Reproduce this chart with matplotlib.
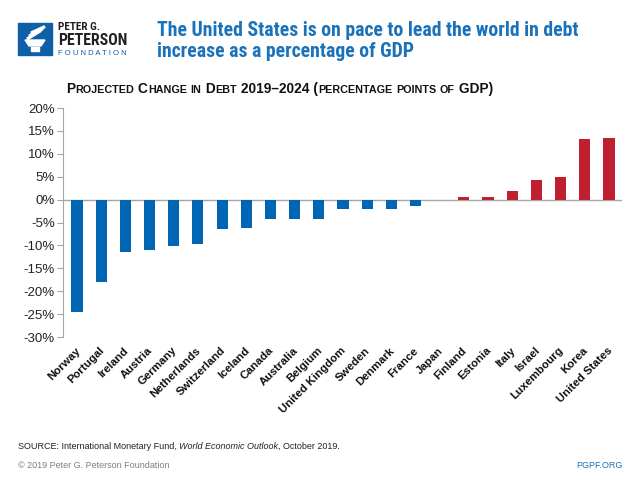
import matplotlib
matplotlib.use("Agg")
import matplotlib.pyplot as plt
from matplotlib import font_manager as fm
from matplotlib.patches import Rectangle, Polygon
from matplotlib.ticker import FuncFormatter

countries = ["Norway", "Portugal", "Ireland", "Austria", "Germany", "Netherlands",
             "Switzerland", "Iceland", "Canada", "Australia", "Belgium",
             "United Kingdom", "Sweden", "Denmark", "France", "Japan", "Finland",
             "Estonia", "Italy", "Israel", "Luxembourg", "Korea", "United States"]
changes = [-24.6, -18.1, -11.5, -10.9, -10.2, -9.8, -6.5, -6.2, -4.3, -4.3, -4.2,
           -2.1, -2.0, -2.0, -1.5, -0.1, 0.6, 0.6, 1.9, 4.2, 4.9, 13.2, 13.5]
y_ticks = [-30, -25, -20, -15, -10, -5, 0, 5, 10, 15, 20]

BLUE = "#0066b3"
RED = "#c01f2f"
TITLE_BLUE = "#1a73ba"
LOGO_BLUE = "#0e5fa8"
GRAY = "#a6a6a6"

plt.rcParams['font.family'] = ['Liberation Sans', 'DejaVu Sans']

# pick a condensed family if one is installed
names = {f.name for f in fm.fontManager.ttflist}
cond_kw = dict(family=['Liberation Sans', 'DejaVu Sans'])
for cand in ['Roboto Condensed', 'Liberation Sans Narrow', 'Open Sans Condensed']:
    if cand in names:
        cond_kw = dict(family=[cand, 'DejaVu Sans'])
        break
else:
    if any(f.name == 'DejaVu Sans' and f.stretch == 'condensed' and f.weight in ('bold', 700)
           for f in fm.fontManager.ttflist):
        cond_kw = dict(family=['DejaVu Sans'], fontstretch='condensed')

fig = plt.figure(figsize=(6.4, 4.8), dpi=100)
W, H = 640, 480
fig.canvas.draw()
renderer = fig.canvas.get_renderer()


def fx(x):
    return x / W


def fy(y):
    return 1 - y / H


def fit(x, y, s, width_px, size0=10, **kw):
    t = fig.text(fx(x), fy(y), s, fontsize=size0, va='baseline', **kw)
    w = t.get_window_extent(renderer=renderer).width
    t.set_fontsize(size0 * width_px / w)
    return t


ax = fig.add_axes([fx(63), fy(337), fx(622) - fx(63), fy(108) - fy(337)])
colors = [BLUE if v < 0 else RED for v in changes]
xs = range(len(countries))
ax.bar(xs, changes, width=0.46, color=colors, zorder=3)
ax.set_xlim(-0.58, len(countries) - 1 + 0.54)
ax.set_ylim(-30, 20)
ax.set_yticks(y_ticks)
ax.yaxis.set_major_formatter(FuncFormatter(lambda v, p: f"{int(v)}%"))
ax.tick_params(axis='y', direction='out', length=4, color=GRAY, width=0.8,
               labelsize=9.5, labelcolor="#222222", pad=2)
ax.axhline(0, color=GRAY, lw=1.0, zorder=2)
for s in ['top', 'right', 'bottom']:
    ax.spines[s].set_visible(False)
ax.spines['left'].set_color(GRAY)
ax.spines['left'].set_linewidth(0.8)
ax.set_xticks([])

for i, name in enumerate(countries):
    ax.annotate(name, xy=(i, -30), xycoords='data', xytext=(-1.5, -6),
                textcoords='offset points', rotation=45, ha='right', va='top',
                rotation_mode='anchor', fontsize=8.2, fontweight='bold',
                color="#111111", annotation_clip=False)

# Logo square and torch icon
fig.patches.append(Rectangle((fx(18), fy(55)), fx(34), fy(23) - fy(55),
                             transform=fig.transFigure, color=LOGO_BLUE, zorder=1))
fig.patches.append(Polygon([(fx(25), fy(40)), (fx(45), fy(40)), (fx(41), fy(46)), (fx(29), fy(46))],
                           closed=True, transform=fig.transFigure, color="white", zorder=2))
fig.patches.append(Rectangle((fx(31), fy(51)), fx(8), fy(47) - fy(51),
                             transform=fig.transFigure, color="white", zorder=2))
for k in range(3):
    fig.patches.append(Polygon([(fx(27 + 2 * k), fy(38 - 3 * k)), (fx(40 + 2 * k), fy(30 - 2 * k)),
                                (fx(41 + 2 * k), fy(31.5 - 2 * k)), (fx(28 + 2 * k), fy(39.5 - 3 * k))],
                               closed=True, transform=fig.transFigure, color="white", zorder=2))

fit(58, 30, "PETER G.", 42, fontweight='bold', color="#231f20", **cond_kw)
fit(58, 45, "PETERSON", 69, fontweight='bold', color="#231f20", **cond_kw)
fit(58, 55, "F O U N D A T I O N", 69, color=LOGO_BLUE)

# Title
t1 = fit(157, 36, "The United States is on pace to lead the world in debt", 419,
         size0=13, fontweight='bold', color=TITLE_BLUE, **cond_kw)
fig.text(fx(157), fy(57), "increase as a percentage of GDP", fontsize=t1.get_fontsize(),
         fontweight='bold', color=TITLE_BLUE, va='baseline', **cond_kw)

# Small caps subtitle, fitted to the reference width
subtitle = "Projected Change in Debt 2019–2024 (percentage points of GDP)"


def small_caps(x0, ybase, s, big, small):
    x = fx(x0)
    pieces = []
    i = 0
    while i < len(s):
        is_small = s[i].islower()
        j = i
        while j < len(s) and s[j].islower() == is_small:
            j += 1
        t = fig.text(x, ybase, s[i:j].upper(), fontsize=small if is_small else big,
                     fontweight='bold', color="#111111", va='baseline')
        x += t.get_window_extent(renderer=renderer).width / W
        pieces.append(t)
        i = j
    return pieces, x * W - x0


pieces, width = small_caps(66, fy(93), subtitle, 9.0, 7.0)
scale = 426 / width
for p in pieces:
    p.remove()
small_caps(66, fy(93), subtitle, 9.0 * scale, 7.0 * scale)

# footer
fs = 6.5
ta = fig.text(fx(18), fy(449), "SOURCE: International Monetary Fund, ", fontsize=fs,
              color="#222222", va='baseline')
bb = ta.get_window_extent(renderer=renderer)
tb = fig.text(bb.x1 / W, fy(449), "World Economic Outlook", fontsize=fs, style='italic',
              color="#222222", va='baseline')
bb2 = tb.get_window_extent(renderer=renderer)
fig.text(bb2.x1 / W, fy(449), ", October 2019.", fontsize=fs, color="#222222", va='baseline')
fig.text(fx(18), fy(468), "© 2019 Peter G. Peterson Foundation", fontsize=fs,
         color="#7f7f7f", va='baseline')
fig.text(fx(623), fy(468), "PGPF.ORG", fontsize=fs, color=TITLE_BLUE, va='baseline', ha='right')

fig.savefig("out.png", dpi=100)
